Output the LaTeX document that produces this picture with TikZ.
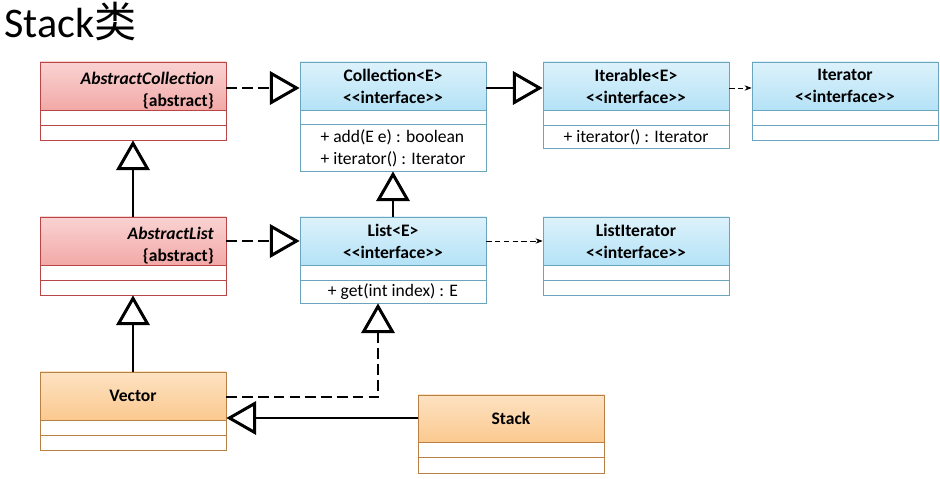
\documentclass[tikz,border=0pt]{standalone}
\usepackage{fontspec}
\setmainfont{Carlito}
\newfontfamily\cjk{Noto Sans CJK SC}
\usetikzlibrary{arrows.meta, fit, calc}
\definecolor{redtop}{HTML}{F9D3D2}
\definecolor{redbot}{HTML}{F2A9A7}
\definecolor{bluetop}{HTML}{DDF2FB}
\definecolor{bluebot}{HTML}{B4E2F6}
\definecolor{orangetop}{HTML}{FDE2C2}
\definecolor{orangebot}{HTML}{FBC98F}
\tikzset{
  redhdr/.style={top color=redtop, bottom color=redbot},
  bluehdr/.style={top color=bluetop, bottom color=bluebot},
  orangehdr/.style={top color=orangetop, bottom color=orangebot},
  realize/.style={-{Triangle[open, length=17pt, width=19pt]}, line width=1.7pt, dash pattern=on 6pt off 3pt},
  inherit/.style={-{Triangle[open, length=17pt, width=19pt]}, line width=1.7pt},
  uses/.style={-{Stealth[length=4pt]}, thin, densely dashed},
  lbl/.style={font=\bfseries\fontsize{10}{12.5}\selectfont, align=center},
  mth/.style={font=\fontsize{10}{12.5}\selectfont},
}
% box: name, x1, y1, x2, y2, header bottom, header style, colour, title
\newcommand{\umlclass}[9]{
  \path[#7] (#2,#3) rectangle (#4,#6);
  \draw[#8!45!gray, thin] (#2,#3) rectangle (#4,#5) (#2,#6) -- (#4,#6);
  \node[fit={(#2,#3) (#4,#5)}, inner sep=0pt] (#1) {};
  \node[lbl] (#1-t) at ($(#2,#3)!0.5!(#4,#6)$) {#9};
}
\newcommand{\ltlt}{{<}{<}}
\newcommand{\gtgt}{{>}{>}}
\begin{document}
\begin{tikzpicture}[x=0.02cm, y=-0.02cm]
  \useasboundingbox (0,0) rectangle (940,479);
  \node[anchor=west, font=\fontsize{24}{26}\selectfont, inner sep=0pt] (title) at (4,22) {Stack\cjk 类};

  \umlclass{acol}{40}{62}{226}{140}{110}{redhdr}{red}{}
  \node[lbl, anchor=north east, align=right] (acol-n) at (220,66) {\textit{AbstractCollection}\\\{abstract\}};
  \draw[red!45!gray, thin] (40,125) -- (226,125);
  \umlclass{col}{300}{62}{486}{171}{110}{bluehdr}{cyan}{Collection<E>\\\ltlt interface\gtgt}
  \draw[cyan!45!gray, thin] (300,124) -- (486,124);
  \node[mth, align=left] (colm) at (393,148) {+ add(E e) : boolean\\+ iterator() : Iterator};
  \umlclass{itb}{543}{62}{729}{148}{110}{bluehdr}{cyan}{Iterable<E>\\\ltlt interface\gtgt}
  \draw[cyan!45!gray, thin] (543,125) -- (729,125);
  \node[mth] (itbm) at (636,137) {+ iterator() : Iterator};
  \umlclass{itr}{752}{62}{938}{140}{110}{bluehdr}{cyan}{Iterator\\\ltlt interface\gtgt}
  \draw[cyan!45!gray, thin] (752,125) -- (938,125);

  \umlclass{alist}{40}{217}{226}{295}{265}{redhdr}{red}{}
  \node[lbl, anchor=north east, align=right] (alist-n) at (220,221) {\textit{AbstractList}\\\{abstract\}};
  \draw[red!45!gray, thin] (40,280) -- (226,280);
  \umlclass{list}{300}{217}{486}{303}{265}{bluehdr}{cyan}{List<E>\\\ltlt interface\gtgt}
  \draw[cyan!45!gray, thin] (300,280) -- (486,280);
  \node[mth] (listm) at (393,292) {+ get(int index) : E};
  \umlclass{litr}{543}{217}{729}{295}{265}{bluehdr}{cyan}{ListIterator\\\ltlt interface\gtgt}
  \draw[cyan!45!gray, thin] (543,280) -- (729,280);

  \umlclass{vec}{40}{372}{226}{450}{420}{orangehdr}{orange}{Vector}
  \draw[orange!45!gray, thin] (40,435) -- (226,435);
  \umlclass{stk}{418}{395}{604}{473}{442}{orangehdr}{orange}{Stack}
  \draw[orange!45!gray, thin] (418,457) -- (604,457);

  \draw[realize] (acol.east |- 0,88) -- (col.west |- 0,88);
  \draw[inherit] (col.east |- 0,88) -- (itb.west |- 0,88);
  \draw[uses] (itb.east |- 0,88) -- (itr.west |- 0,88);
  \draw[realize] (alist.east |- 0,241) -- (list.west |- 0,241);
  \draw[uses] (list.east |- 0,241) -- (litr.west |- 0,241);
  \draw[inherit] (alist.north) -- (acol.south);
  \draw[inherit] (list.north -| 393,0) -- (col.south -| 393,0);
  \draw[inherit] (vec.north) -- (alist.south);
  \draw[realize] (vec.east |- 0,397) -| (list.south -| 378,0);
  \draw[inherit] (stk.west |- 0,418) -- (vec.east |- 0,418);
\end{tikzpicture}
\end{document}
